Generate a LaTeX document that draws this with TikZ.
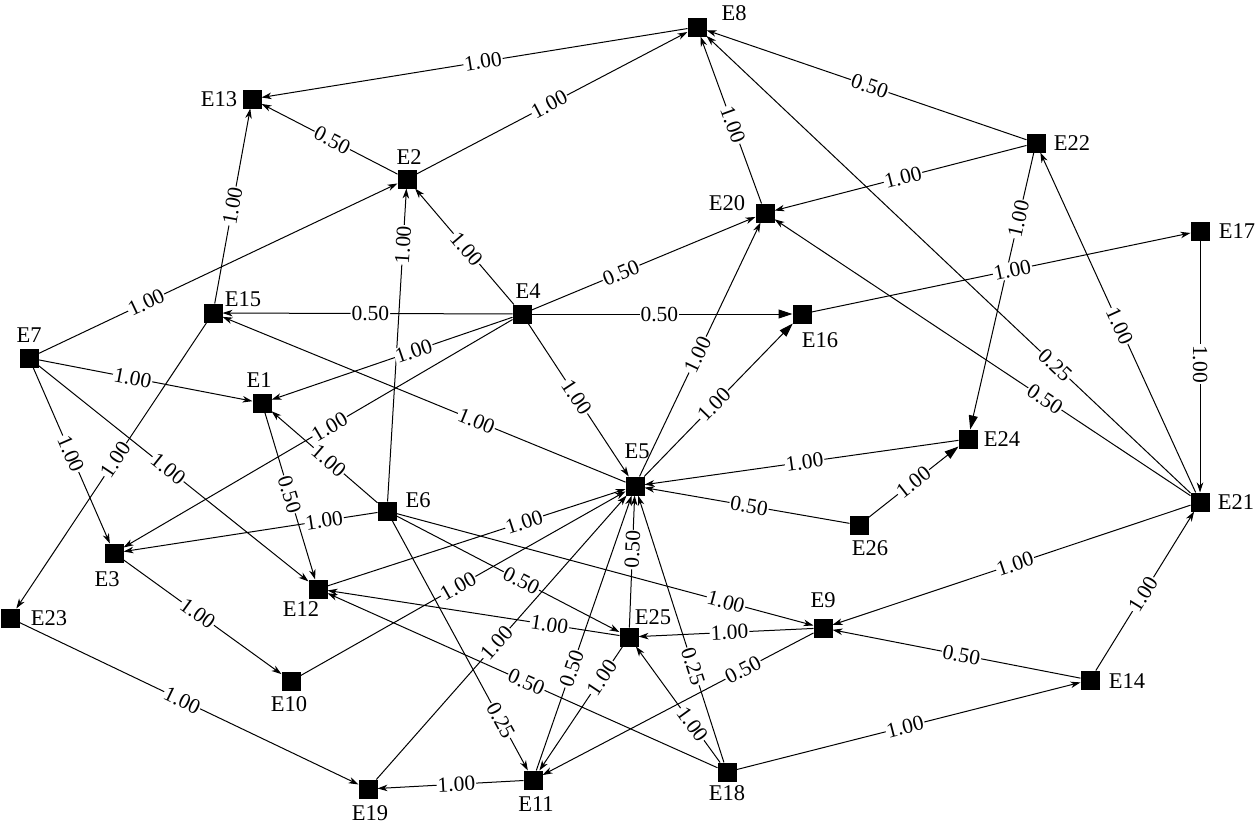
\documentclass[tikz,border=0pt]{standalone}
\usepackage{fontspec}
\setmainfont{Liberation Serif}
\usetikzlibrary{arrows.meta}
\pgfdeclarelayer{bg}
\pgfsetlayers{bg,main}
\newcommand\edg[5][ar]{%
  \begin{pgfonlayer}{bg}\draw[#1] (#2) -- (#3);\end{pgfonlayer}%
  \path (#2) -- node[el,pos=#4]{#5} (#3);}
\begin{document}
\begin{tikzpicture}[x=1pt,y=-1pt,
  sq/.style={fill=black,minimum size=19pt,inner sep=0pt,outer sep=0pt},
  nl/.style={font=\fontsize{22.5}{22.5}\selectfont,inner sep=0pt},
  el/.style={sloped,fill=white,inner sep=1pt,font=\fontsize{21.5}{21.5}\selectfont},
  ar/.style={line width=1pt,-{Stealth[length=10pt,width=6.5pt,inset=3pt]}},
  arb/.style={line width=1pt,-{Triangle[length=14pt,width=9pt]}}]
\useasboundingbox (0,0) rectangle (1256,827);
% squares
\node[sq] (E1) at (262,403) {};
\node[sq] (E2) at (407,179) {};
\node[sq] (E3) at (114,553) {};
\node[sq] (E4) at (522,314) {};
\node[sq] (E5) at (635,486) {};
\node[sq] (E6) at (387,511) {};
\node[sq] (E7) at (29,358) {};
\node[sq] (E8) at (697,27) {};
\node[sq] (E9) at (823,628) {};
\node[sq] (E10) at (291,681) {};
\node[sq] (E11) at (533,780) {};
\node[sq] (E12) at (318,589) {};
\node[sq] (E13) at (252,99) {};
\node[sq] (E14) at (1090,680) {};
\node[sq] (E15) at (213,313) {};
\node[sq] (E16) at (802,314) {};
\node[sq] (E17) at (1200,231) {};
\node[sq] (E18) at (727,772) {};
\node[sq] (E19) at (368,789) {};
\node[sq] (E20) at (765,213) {};
\node[sq] (E21) at (1200,502) {};
\node[sq] (E22) at (1036,143) {};
\node[sq] (E23) at (10,618) {};
\node[sq] (E24) at (968,439) {};
\node[sq] (E25) at (629,637) {};
\node[sq] (E26) at (859,525) {};
% node labels
\node[nl] (L1) at (259,380) {E1};
\node[nl] (L2) at (409,157) {E2};
\node[nl] (L3) at (107,579) {E3};
\node[nl] (L4) at (528,291) {E4};
\node[nl] (L5) at (637,451) {E5};
\node[nl] (L6) at (418,500) {E6};
\node[nl] (L7) at (29,335) {E7};
\node[nl] (L8) at (734,13) {E8};
\node[nl] (L9) at (823,600) {E9};
\node[nl] (L10) at (289,704) {E10};
\node[nl] (L11) at (536,804) {E11};
\node[nl] (L12) at (301,609) {E12};
\node[nl] (L13) at (219,99) {E13};
\node[nl] (L14) at (1127,681) {E14};
\node[nl] (L15) at (243,299) {E15};
\node[nl] (L16) at (820,340) {E16};
\node[nl] (L17) at (1237,231) {E17};
\node[nl] (L18) at (727,793) {E18};
\node[nl] (L19) at (370,813) {E19};
\node[nl] (L20) at (727,203) {E20};
\node[nl] (L21) at (1236,502) {E21};
\node[nl] (L22) at (1072,143) {E22};
\node[nl] (L23) at (49,618) {E23};
\node[nl] (L24) at (1002,439) {E24};
\node[nl] (L25) at (653,617) {E25};
\node[nl] (L26) at (870,548) {E26};
% edges
\edg{E8}{E13}{.48}{1.00}
\edg{E2}{E8}{.49}{1.00}
\edg{E2}{E13}{.48}{0.50}
\edg{E22}{E8}{.49}{0.50}
\edg{E20}{E8}{.47}{1.00}
\edg{E21}{E8}{.28}{0.25}
\edg{E22}{E20}{.49}{1.00}
\edg[arb]{E22}{E24}{.24}{1.00}
\edg{E21}{E22}{.49}{1.00}
\edg{E21}{E20}{.35}{0.50}
\edg{E17}{E21}{.49}{1.00}
\edg{E16}{E17}{.53}{1.00}
\edg{E4}{E2}{.48}{1.00}
\edg{E4}{E20}{.40}{0.50}
\edg{E4}{E15}{.49}{0.50}
\edg[arb]{E4}{E16}{.49}{0.50}
\edg{E4}{E1}{.41}{1.00}
\edg{E4}{E3}{.47}{1.00}
\edg{E4}{E5}{.48}{1.00}
\edg{E7}{E2}{.30}{1.00}
\edg{E7}{E1}{.44}{1.00}
\edg{E7}{E3}{.49}{1.00}
\edg{E7}{E12}{.48}{1.00}
\edg{E15}{E13}{.50}{1.00}
\edg{E15}{E23}{.48}{1.00}
\edg{E5}{E15}{.37}{1.00}
\edg{E6}{E2}{.82}{1.00}
\edg{E6}{E1}{.46}{1.00}
\edg{E1}{E12}{.49}{0.50}
\edg{E6}{E3}{.21}{1.00}
\edg{E6}{E25}{.56}{0.50}
\edg{E6}{E9}{.79}{1.00}
\edg{E6}{E11}{.80}{0.25}
\edg{E5}{E20}{.48}{1.00}
\edg[arb]{E5}{E16}{.47}{1.00}
\edg{E24}{E5}{.49}{1.00}
\edg{E26}{E5}{.49}{0.50}
\edg[arb]{E26}{E24}{.50}{1.00}
\edg{E12}{E5}{.66}{1.00}
\edg{E10}{E5}{.485}{1.00}
\edg{E19}{E5}{.48}{1.00}
\edg{E11}{E5}{.37}{0.50}
\edg{E25}{E5}{.59}{0.50}
\edg{E18}{E5}{.36}{0.25}
\edg{E3}{E10}{.47}{1.00}
\edg{E23}{E19}{.48}{1.00}
\edg{E11}{E19}{.46}{1.00}
\edg{E25}{E12}{.24}{1.00}
\edg{E18}{E12}{.49}{0.50}
\edg{E9}{E25}{.48}{1.00}
\edg{E25}{E11}{.25}{1.00}
\edg{E18}{E25}{.33}{1.00}
\edg{E9}{E11}{.26}{0.50}
\edg{E21}{E9}{.49}{1.00}
\edg{E14}{E9}{.48}{0.50}
\edg{E14}{E21}{.48}{1.00}
\edg{E18}{E14}{.49}{1.00}
\end{tikzpicture}
\end{document}
